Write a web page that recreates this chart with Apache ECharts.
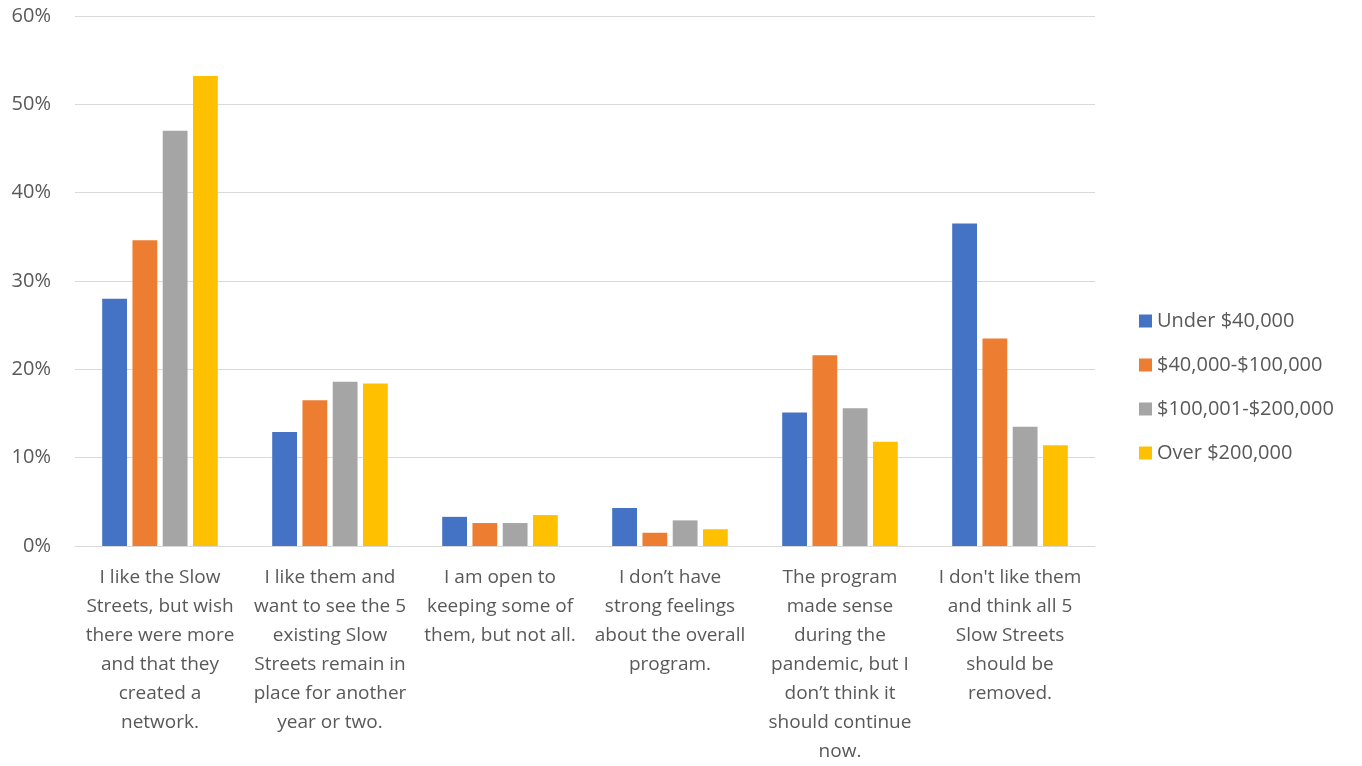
<!DOCTYPE html>
<html><head><meta charset="utf-8">
<script src="https://cdn.jsdelivr.net/npm/echarts@6/dist/echarts.min.js"></script>
<style>html,body{margin:0;padding:0;background:#fff}#c{width:1362px;height:766px}</style>
</head><body><div id="c"></div>
<script>
const categories = [
  "I like the Slow\nStreets, but wish\nthere were more\nand that they\ncreated a\nnetwork.",
  "I like them and\nwant to see the 5\nexisting Slow\nStreets remain in\nplace for another\nyear or two.",
  "I am open to\nkeeping some of\nthem, but not all.",
  "I don’t have\nstrong feelings\nabout the overall\nprogram.",
  "The program\nmade sense\nduring the\npandemic, but I\ndon’t think it\nshould continue\nnow.",
  "I don't like them\nand think all 5\nSlow Streets\nshould be\nremoved."
];
const seriesNames = ["Under $40,000", "$40,000-$100,000", "$100,001-$200,000", "Over $200,000"];
const under40k = [28.0, 12.9, 3.3, 4.3, 15.1, 36.5];
const k40to100k = [34.6, 16.5, 2.6, 1.5, 21.6, 23.5];
const k100to200k = [47.0, 18.6, 2.6, 2.9, 15.6, 13.5];
const over200k = [53.2, 18.4, 3.5, 1.9, 11.8, 11.4];
const yTicks = [0, 10, 20, 30, 40, 50, 60];
const colors = ["#4472C4", "#ED7D31", "#A5A5A5", "#FFC000"];
const values = [under40k, k40to100k, k100to200k, over200k];
const font = "'Open Sans', 'Liberation Sans', sans-serif";
const chart = echarts.init(document.getElementById('c'));
chart.setOption({
  animation: false,
  color: colors,
  textStyle: {fontFamily: font},
  grid: {left: 75, right: 267, top: 16, bottom: 218, containLabel: false},
  legend: {
    orient: 'vertical', left: 1134, top: 306,
    itemWidth: 13, itemHeight: 13, itemGap: 24,
    icon: 'rect',
    textStyle: {fontSize: 20, color: '#595959', fontFamily: font},
    data: seriesNames
  },
  xAxis: {
    type: 'category', data: categories,
    axisLine: {lineStyle: {color: '#d9d9d9', width: 1}},
    axisTick: {show: false},
    axisLabel: {interval: 0, fontSize: 19, lineHeight: 29, color: '#595959', margin: 17, fontFamily: font}
  },
  yAxis: {
    type: 'value', min: 0, max: 60, interval: 10,
    axisLine: {show: false}, axisTick: {show: false},
    splitLine: {lineStyle: {color: '#d9d9d9', width: 1}},
    axisLabel: {formatter: v => v + '%', fontSize: 20, color: '#595959', margin: 24, fontFamily: font}
  },
  series: seriesNames.map((n, i) => ({
    name: n, type: 'bar', data: values[i],
    barGap: '22%', barCategoryGap: '32%'
  }))
});
</script></body></html>
